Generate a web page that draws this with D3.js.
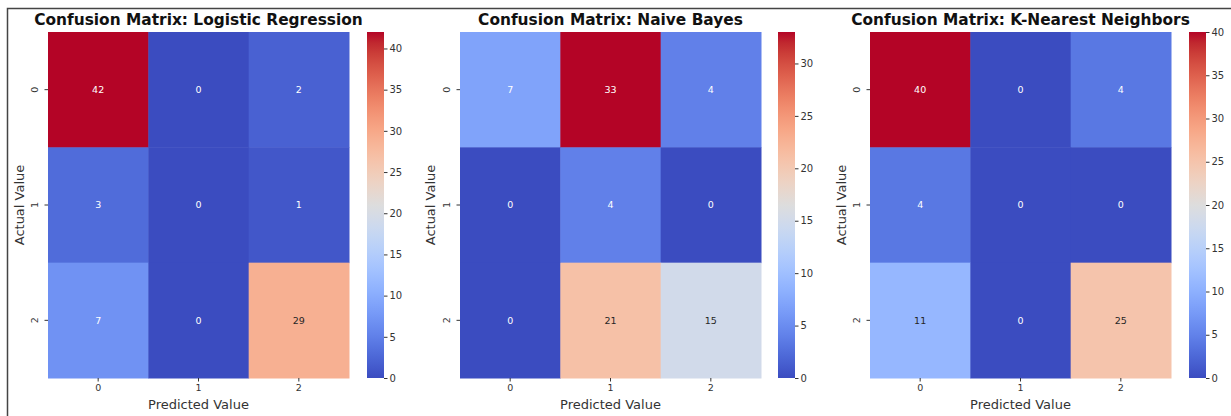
<!DOCTYPE html>
<html>
<head>
<meta charset="utf-8">
<script src="https://cdn.jsdelivr.net/npm/d3@7"></script>
<style>
  body { margin: 0; background: #fff; }
  text { font-family: "DejaVu Sans", sans-serif; }
</style>
</head>
<body>
<div id="chart"></div>
<script>
// data
var classLabels = ["0", "1", "2"];
var modelNames = ["Logistic Regression", "Naive Bayes", "K-Nearest Neighbors"];
var matrixLR = [[42, 0, 2], [3, 0, 1], [7, 0, 29]];
var matrixNB = [[7, 33, 4], [0, 4, 0], [0, 21, 15]];
var matrixKNN = [[40, 0, 4], [4, 0, 0], [11, 0, 25]];
var colorbarTicksLR = [0, 5, 10, 15, 20, 25, 30, 35, 40];
var colorbarTicksNB = [0, 5, 10, 15, 20, 25, 30];
var colorbarTicksKNN = [0, 5, 10, 15, 20, 25, 30, 35, 40];

// coolwarm colormap stops (matplotlib)
var coolwarm = [
  [59,76,192],[68,90,204],[77,104,215],[87,117,225],[98,130,234],[108,142,241],
  [119,154,247],[130,165,251],[141,176,254],[152,185,255],[163,194,255],[174,201,253],
  [184,208,249],[194,213,244],[204,217,238],[213,219,230],[221,221,221],[229,216,209],
  [236,211,197],[241,204,184],[245,196,172],[247,187,159],[247,177,147],[247,166,134],
  [244,154,123],[241,141,111],[236,127,99],[229,112,89],[222,96,77],[213,80,67],
  [203,62,56],[192,40,47],[180,4,38]
];
var cwScale = d3.scaleLinear()
  .domain(coolwarm.map(function(d, i) { return i / (coolwarm.length - 1); }))
  .range(coolwarm.map(function(c) { return "rgb(" + c.join(",") + ")"; }))
  .interpolate(d3.interpolateRgb);

var width = 1231, height = 416;

var svg = d3.select("#chart")
  .append("svg")
    .attr("width", width)
    .attr("height", height);

// frame
svg.append("rect")
  .attr("x", 7.5).attr("y", 8.5)
  .attr("width", width).attr("height", height)
  .attr("fill", "none")
  .attr("stroke", "#444")
  .attr("stroke-width", 1.5);

var panels = [
  {name: modelNames[0], m: matrixLR, max: 42, ticks: colorbarTicksLR, x0: 48, cbx: 367, ylx: 20},
  {name: modelNames[1], m: matrixNB, max: 33, ticks: colorbarTicksNB, x0: 460, cbx: 778, ylx: 431},
  {name: modelNames[2], m: matrixKNN, max: 40, ticks: colorbarTicksKNN, x0: 870, cbx: 1189, ylx: 842}
];

var hmTop = 32, hmW = 301, hmH = 346, cbW = 17;

function luminance(c) {
  var rgb = d3.rgb(c);
  var f = function(v) { v = v / 255; return v <= 0.03928 ? v / 12.92 : Math.pow((v + 0.055) / 1.055, 2.4); };
  return 0.2126 * f(rgb.r) + 0.7152 * f(rgb.g) + 0.0722 * f(rgb.b);
}

panels.forEach(function(p) {
  var g = svg.append("g");

  var x = d3.scaleBand().domain(classLabels).range([p.x0, p.x0 + hmW]);
  var y = d3.scaleBand().domain(classLabels).range([hmTop, hmTop + hmH]);
  var color = function(v) { return cwScale(v / p.max); };

  var cells = [];
  p.m.forEach(function(row, i) {
    row.forEach(function(v, j) { cells.push({r: classLabels[i], c: classLabels[j], v: v}); });
  });

  g.selectAll(".cell")
    .data(cells)
    .enter()
    .append("rect")
      .attr("x", function(d) { return x(d.c); })
      .attr("y", function(d) { return y(d.r); })
      .attr("width", x.bandwidth() + 0.5)
      .attr("height", y.bandwidth() + 0.5)
      .attr("fill", function(d) { return color(d.v); });

  g.selectAll(".annot")
    .data(cells)
    .enter()
    .append("text")
      .attr("x", function(d) { return x(d.c) + x.bandwidth() / 2; })
      .attr("y", function(d) { return y(d.r) + y.bandwidth() / 2; })
      .attr("dy", "0.35em")
      .attr("text-anchor", "middle")
      .attr("font-size", "9.5px")
      .attr("fill", function(d) { return luminance(color(d.v)) > 0.408 ? "#262626" : "#ffffff"; })
      .text(function(d) { return d.v; });

  // x axis
  var xAxis = g.append("g")
    .attr("transform", "translate(0," + (hmTop + hmH) + ")")
    .call(d3.axisBottom(x).tickSize(3.5).tickPadding(3));
  xAxis.select(".domain").remove();
  xAxis.selectAll(".tick line").attr("stroke", "#333");
  xAxis.selectAll(".tick text").attr("font-size", "9.5px").attr("fill", "#333");

  // y axis (labels rotated)
  var yAxis = g.append("g")
    .attr("transform", "translate(" + p.x0 + ",0)")
    .call(d3.axisLeft(y).tickSize(3.5).tickPadding(3));
  yAxis.select(".domain").remove();
  yAxis.selectAll(".tick line").attr("stroke", "#333");
  yAxis.selectAll(".tick text")
    .attr("font-size", "9.5px").attr("fill", "#333")
    .attr("text-anchor", "middle")
    .attr("dy", null)
    .attr("x", -10)
    .attr("y", 0)
    .attr("transform", "rotate(-90,-10,0)");

  // title
  g.append("text")
    .attr("x", p.x0 + hmW / 2)
    .attr("y", 25)
    .attr("text-anchor", "middle")
    .attr("font-size", "15.4px")
    .attr("font-weight", "bold")
    .attr("fill", "#111")
    .text("Confusion Matrix: " + p.name);

  // axis labels
  g.append("text")
    .attr("x", p.x0 + hmW / 2)
    .attr("y", 409)
    .attr("text-anchor", "middle")
    .attr("font-size", "13px")
    .attr("fill", "#333")
    .text("Predicted Value");
  g.append("text")
    .attr("transform", "translate(" + (p.ylx + 4) + "," + (hmTop + hmH / 2) + ") rotate(-90)")
    .attr("text-anchor", "middle")
    .attr("font-size", "13px")
    .attr("fill", "#333")
    .text("Actual Value");

  // colorbar
  var gid = "grad" + p.max;
  var grad = svg.append("defs").append("linearGradient")
    .attr("id", gid)
    .attr("x1", 0).attr("y1", 1).attr("x2", 0).attr("y2", 0);
  coolwarm.forEach(function(c, i) {
    grad.append("stop")
      .attr("offset", i / (coolwarm.length - 1))
      .attr("stop-color", "rgb(" + c.join(",") + ")");
  });
  g.append("rect")
    .attr("x", p.cbx).attr("y", hmTop)
    .attr("width", cbW).attr("height", hmH)
    .attr("fill", "url(#" + gid + ")");

  var cy = d3.scaleLinear().domain([0, p.max]).range([hmTop + hmH, hmTop]);
  var cAxis = g.append("g")
    .attr("transform", "translate(" + (p.cbx + cbW) + ",0)")
    .call(d3.axisRight(cy).tickValues(p.ticks).tickSize(3.5).tickPadding(2));
  cAxis.select(".domain").remove();
  cAxis.selectAll(".tick line").attr("stroke", "#333");
  cAxis.selectAll(".tick text").attr("font-size", "10px").attr("fill", "#333");
});
</script>
</body>
</html>
